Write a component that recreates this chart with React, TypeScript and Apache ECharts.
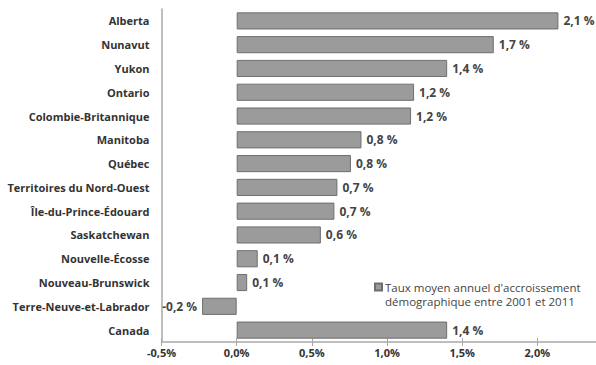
import React, { useEffect, useRef } from "react";
import * as echarts from "echarts";

// Average annual population growth rate, 2001–2011 (%)
const provinces: string[] = [
  "Alberta",
  "Nunavut",
  "Yukon",
  "Ontario",
  "Colombie-Britannique",
  "Manitoba",
  "Québec",
  "Territoires du Nord-Ouest",
  "Île-du-Prince-Édouard",
  "Saskatchewan",
  "Nouvelle-Écosse",
  "Nouveau-Brunswick",
  "Terre-Neuve-et-Labrador",
  "Canada",
];

const growthRates: number[] = [
  2.14, 1.71, 1.4, 1.18, 1.16, 0.83, 0.76, 0.67, 0.65, 0.56, 0.14, 0.07, -0.23, 1.4,
];

const legendLines: string[] = [
  "Taux moyen annuel d'accroissement",
  "démographique entre 2001 et 2011",
];
const seriesName = legendLines.join(" ");

const axisMin = -0.5;
const axisMax = 2.39;
const axisStep = 0.5;

const FONT = "'Open Sans', Lato, sans-serif";

const fmt = (v: number) => v.toFixed(1).replace(".", ",");
const isStep = (v: number) => Math.abs(v / axisStep - Math.round(v / axisStep)) < 1e-6;

const axisColor = "#a9a9a9";
const legendFontSize = 11.5;

export default function App() {
  const ref = useRef<HTMLDivElement>(null);

  useEffect(() => {
    if (!ref.current) return;
    const chart = echarts.init(ref.current, undefined, { renderer: "svg" });
    const sharedRange = { type: "value", min: axisMin, max: axisMax, interval: axisStep };
    chart.setOption({
      animation: false,
      backgroundColor: "#ffffff",
      textStyle: { fontFamily: FONT },
      grid: { left: 161.5, right: 0, top: 9, bottom: 23, containLabel: false },
      legend: {
        show: true,
        left: 374,
        top: 281,
        icon: "rect",
        itemWidth: 7,
        itemHeight: 7,
        itemGap: 4,
        padding: 0,
        formatter: () => legendLines[0],
        textStyle: {
          fontFamily: FONT,
          fontSize: legendFontSize,
          color: "#444",
          padding: [0, 0, 0, -2],
        },
        data: [{ name: seriesName }],
      },
      // second line of the legend caption, wrapped under the first
      graphic: [
        {
          type: "text",
          left: 385,
          top: 295,
          silent: true,
          style: {
            text: legendLines[1],
            fontFamily: FONT,
            fontSize: legendFontSize,
            fill: "#444",
          },
        },
      ],
      xAxis: [
        {
          ...sharedRange,
          splitLine: { show: false },
          axisLine: { show: true, lineStyle: { color: axisColor, width: 1.5 } },
          axisTick: { show: true, length: 4, lineStyle: { color: axisColor } },
          axisLabel: {
            color: "#333",
            fontFamily: FONT,
            fontWeight: "bold",
            fontSize: 11,
            margin: 5,
            showMaxLabel: false,
            formatter: (v: number) => (isStep(v) ? fmt(v) + "%" : ""),
          },
        },
        {
          // inner half of the cross-shaped tick marks
          ...sharedRange,
          position: "bottom",
          splitLine: { show: false },
          axisLine: { show: false },
          axisTick: { show: true, inside: true, length: 4, lineStyle: { color: axisColor } },
          axisLabel: { show: false },
        },
      ],
      yAxis: {
        type: "category",
        inverse: true,
        data: provinces,
        axisLine: { show: true, onZero: false, lineStyle: { color: axisColor, width: 1.5 } },
        axisTick: { show: false },
        axisLabel: {
          color: "#333",
          fontFamily: FONT,
          fontWeight: "bold",
          fontSize: 11,
          margin: 12,
        },
      },
      series: [
        {
          name: seriesName,
          type: "bar",
          xAxisIndex: 0,
          barWidth: "72%",
          itemStyle: { color: "#9b9b9b", borderColor: "#6e6e6e", borderWidth: 1 },
          data: growthRates.map((v) => ({
            value: v,
            label: {
              show: true,
              position: v < 0 ? "left" : "right",
              distance: 5,
              formatter: fmt(v) + " %",
              color: "#444",
              fontFamily: FONT,
              fontWeight: "bold",
              fontSize: 12,
            },
          })),
        },
      ],
    });
    return () => chart.dispose();
  }, []);

  return (
    <div
      ref={ref}
      style={{ position: "fixed", left: 0, top: 0, width: 596, height: 365 }}
    />
  );
}
